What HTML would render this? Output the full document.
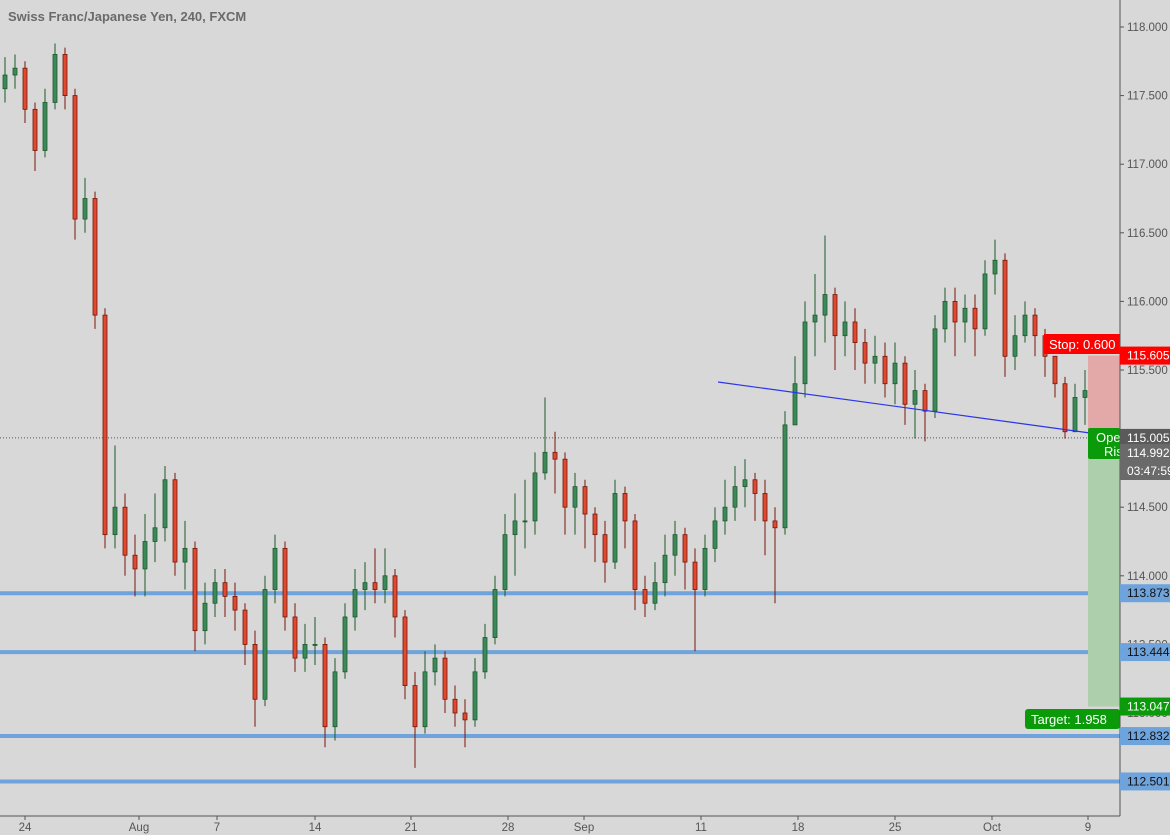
<!DOCTYPE html>
<html><head><meta charset="utf-8"><style>
html,body{margin:0;padding:0;background:#d8d8d8;}
svg{display:block;font-family:"Liberation Sans",sans-serif;}
</style></head><body>
<svg id="chart" width="1170" height="835" viewBox="0 0 1170 835">
<rect x="0" y="0" width="1170" height="835" fill="#d8d8d8"/>
<g id="marks"></g>
<g id="overlay"></g>
<line x1="1120" y1="0" x2="1120" y2="816" stroke="#555" stroke-width="1"/>
<line x1="0" y1="816" x2="1120" y2="816" stroke="#555" stroke-width="1"/>
<g id="axes"></g>
<text x="8" y="21" font-size="13" fill="#6a6a6a" font-weight="bold">Swiss Franc/Japanese Yen, 240, FXCM</text>
</svg>
<script>
const opens=[117.55,117.65,117.7,117.4,117.1,117.45,117.8,117.5,116.6,116.75,115.9,114.3,114.5,114.15,114.05,114.25,114.35,114.7,114.1,114.2,113.6,113.8,113.95,113.85,113.75,113.5,113.1,113.9,114.2,113.7,113.4,113.5,113.5,112.9,113.3,113.7,113.9,113.95,113.9,114.0,113.7,113.2,112.9,113.3,113.4,113.1,113.0,112.95,113.3,113.55,113.9,114.3,114.4,114.4,114.75,114.9,114.85,114.5,114.65,114.45,114.3,114.1,114.6,114.4,113.9,113.8,113.95,114.15,114.3,114.1,113.9,114.2,114.4,114.5,114.65,114.7,114.6,114.4,114.35,115.1,115.4,115.85,115.9,116.05,115.75,115.85,115.7,115.55,115.6,115.4,115.55,115.25,115.35,115.2,115.8,116.0,115.85,115.95,115.8,116.2,116.3,115.6,115.75,115.9,115.75,115.6,115.4,115.05,115.3,115.35];
const closes=[117.65,117.7,117.4,117.1,117.45,117.8,117.5,116.6,116.75,115.9,114.3,114.5,114.15,114.05,114.25,114.35,114.7,114.1,114.2,113.6,113.8,113.95,113.85,113.75,113.5,113.1,113.9,114.2,113.7,113.4,113.5,113.5,112.9,113.3,113.7,113.9,113.95,113.9,114.0,113.7,113.2,112.9,113.3,113.4,113.1,113.0,112.95,113.3,113.55,113.9,114.3,114.4,114.4,114.75,114.9,114.85,114.5,114.65,114.45,114.3,114.1,114.6,114.4,113.9,113.8,113.95,114.15,114.3,114.1,113.9,114.2,114.4,114.5,114.65,114.7,114.6,114.4,114.35,115.1,115.4,115.85,115.9,116.05,115.75,115.85,115.7,115.55,115.6,115.4,115.55,115.25,115.35,115.2,115.8,116.0,115.85,115.95,115.8,116.2,116.3,115.6,115.75,115.9,115.75,115.6,115.4,115.05,115.3,115.35,115.0];
const highs=[117.78,117.8,117.75,117.45,117.55,117.88,117.85,117.55,116.9,116.8,115.95,114.95,114.6,114.3,114.45,114.6,114.8,114.75,114.4,114.25,113.95,114.05,114.05,113.95,113.8,113.6,114.0,114.3,114.25,113.8,113.65,113.7,113.55,113.4,113.8,114.05,114.1,114.2,114.2,114.05,113.75,113.3,113.45,113.5,113.45,113.2,113.1,113.4,113.65,114.0,114.45,114.6,114.7,114.9,115.3,115.05,114.9,114.75,114.7,114.5,114.4,114.7,114.65,114.45,114.0,114.1,114.3,114.4,114.35,114.2,114.3,114.5,114.7,114.8,114.85,114.75,114.7,114.5,115.2,115.6,116.0,116.2,116.48,116.1,116.0,115.95,115.8,115.75,115.7,115.7,115.6,115.5,115.4,115.9,116.1,116.1,116.05,116.05,116.3,116.45,116.35,115.9,116.0,115.95,115.8,115.6,115.45,115.4,115.5,115.2];
const lows=[117.45,117.55,117.3,116.95,117.05,117.4,117.4,116.45,116.5,115.8,114.2,114.2,114.0,113.85,113.85,114.1,114.25,114.0,113.9,113.45,113.5,113.7,113.7,113.6,113.35,112.9,113.05,113.8,113.6,113.3,113.3,113.35,112.75,112.8,113.25,113.6,113.75,113.8,113.8,113.55,113.1,112.6,112.85,113.2,113.0,112.9,112.75,112.9,113.25,113.5,113.85,114.0,114.2,114.3,114.7,114.6,114.3,114.3,114.2,114.1,113.95,114.05,114.2,113.75,113.7,113.75,113.85,114.0,113.9,113.45,113.85,114.1,114.3,114.4,114.5,114.4,114.15,113.8,114.3,115.1,115.3,115.6,115.7,115.5,115.6,115.5,115.4,115.4,115.3,115.25,115.1,115.0,114.98,115.15,115.7,115.6,115.7,115.6,115.75,116.05,115.45,115.5,115.7,115.6,115.45,115.3,115.0,115.05,115.1,114.98];
const priceTicks=[118.0,117.5,117.0,116.5,116.0,115.5,115.0,114.5,114.0,113.5,113.0];
const dateLabels=["24","Aug","7","14","21","28","Sep","11","18","25","Oct","9"];
const dateIndex=[2,13.4,21.2,31,40.6,50.3,57.9,69.6,79.3,89,98.7,108.3];
const levelValues=[113.873,113.444,112.832,112.501];
const lastPrice=115.005;

const NS="http://www.w3.org/2000/svg";
function yScale(p){return 27+(118-p)*137.2;}
function xScale(i){return 5+i*10;}
function mk(tag,attrs,parent){const e=document.createElementNS(NS,tag);for(const k in attrs)e.setAttribute(k,attrs[k]);parent.appendChild(e);return e;}
const marks=document.getElementById('marks'),ov=document.getElementById('overlay'),ax=document.getElementById('axes');

levelValues.forEach((v,i)=>{
  const l=mk('line',{x1:0,x2:1120,y1:yScale(v),y2:yScale(v),stroke:'#6fa3dc','stroke-width':4},marks);
  
  
});
const dl=mk('line',{x1:0,x2:1120,y1:yScale(lastPrice),y2:yScale(lastPrice),stroke:'#555','stroke-width':1,'stroke-dasharray':'1,2'},marks);



for(let i=0;i<closes.length;i++){
  const up=closes[i]>=opens[i];
  const x=xScale(i);
  const w=mk('line',{x1:x,x2:x,y1:yScale(highs[i]),y2:yScale(lows[i]),stroke:up?'#1e5a2a':'#7a1508','stroke-width':1},marks);
  
  
  const top=yScale(Math.max(opens[i],closes[i])),bot=yScale(Math.min(opens[i],closes[i]));
  const b=mk('rect',{x:x-2,y:top,width:4,height:Math.max(1,bot-top),fill:up?'#3c8a5c':'#e04a30',stroke:up?'#1e5a2a':'#7a1508','stroke-width':0.8},marks);
  
  
}

const tl=mk('line',{x1:718,y1:382,x2:1090,y2:433,stroke:'#2a35e8','stroke-width':1.2},ov);


const sz=mk('rect',{x:1088,y:yScale(115.605),width:32,height:yScale(115.05)-yScale(115.605),fill:'#e3a8a8'},ov);


const tz=mk('rect',{x:1088,y:458,width:32,height:yScale(113.047)-458,fill:'#aecfab'},ov);


const ob=mk('rect',{x:1088,y:428,width:32,height:31,fill:'#0a9a0a',rx:2},ov);


const ot=mk('text',{x:1096,y:442,'font-size':13,fill:'#fff'},ov);ot.textContent='Ope';


const rt=mk('text',{x:1104,y:456,'font-size':13,fill:'#fff'},ov);rt.textContent='Ris';


const sb=mk('rect',{x:1044,y:334,width:76,height:20,fill:'#ff0000'},ov);


const st=mk('text',{x:1049,y:349,'font-size':13,fill:'#fff'},ov);st.textContent='Stop: 0.600';


const gb=mk('rect',{x:1025,y:709,width:95,height:20,fill:'#0a9a0a',rx:3},ov);


const gt=mk('text',{x:1031,y:724,'font-size':13,fill:'#fff'},ov);gt.textContent='Target: 1.958';



priceTicks.forEach(p=>{
  const y=yScale(p);
  const tk=mk('line',{x1:1120,x2:1124,y1:y,y2:y,stroke:'#555'},ax);
  
  
  const t=mk('text',{x:1127,y:y+4,'font-size':11.5,fill:'#555'},ax);t.textContent=p.toFixed(3);
  
  
});
function tag(v,label,bg,fg,yy){
  const y=yy!==undefined?yy:yScale(v);
  const r=mk('rect',{x:1120,y:y-9,width:50,height:18,fill:bg},ax);
  
  
  const t=mk('text',{x:1127,y:y+4,'font-size':12,fill:fg},ax);t.textContent=label;
  
  
}
levelValues.forEach(v=>tag(v,v.toFixed(3),'#6fa3dc','#111'));
tag(115.605,'115.605','#ff0000','#fff');
tag(113.047,'113.047','#0a9a0a','#fff');
tag(lastPrice,'115.005','#5a5a5a','#fff');
tag(0,'114.992','#6a6a6a','#fff',453);
tag(0,'03:47:59','#6a6a6a','#fff',471);

dateLabels.forEach((d,i)=>{
  const x=xScale(dateIndex[i]);
  const tk=mk('line',{x1:x,x2:x,y1:816,y2:820,stroke:'#555'},ax);
  
  
  const t=mk('text',{x:x,y:831,'font-size':11.5,fill:'#555','text-anchor':'middle'},ax);t.textContent=d;
  
  
});
</script>
</body></html>
